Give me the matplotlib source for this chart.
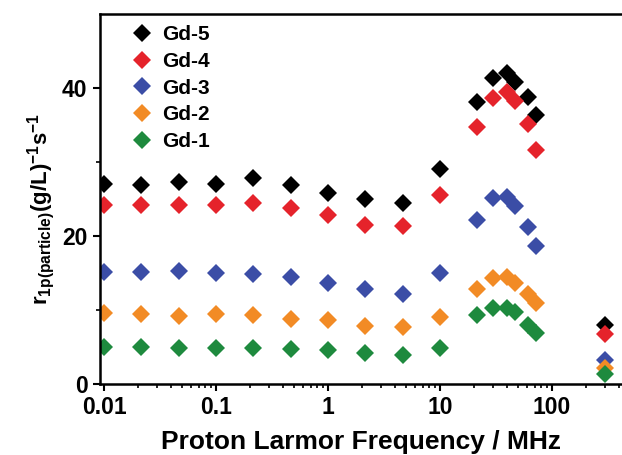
import matplotlib
matplotlib.use("Agg")
import matplotlib.pyplot as plt
from matplotlib.ticker import LogLocator, FixedLocator, NullFormatter

plt.rcParams['font.family'] = ['Liberation Sans', 'DejaVu Sans']
plt.rcParams['font.weight'] = 'bold'
plt.rcParams['mathtext.fontset'] = 'custom'
plt.rcParams['mathtext.rm'] = 'Liberation Sans:bold'
plt.rcParams['mathtext.bf'] = 'Liberation Sans:bold'
plt.rcParams['mathtext.it'] = 'Liberation Sans:bold'

freq = [0.01, 0.0215, 0.0464, 0.1, 0.215, 0.464, 1.0, 2.15, 4.64, 10.0,
        21.5, 30, 40, 47, 61, 72, 300]

gd5 = [27.0, 26.9, 27.3, 27.0, 27.8, 26.9, 25.8, 25.0, 24.4, 29.0,
       38.1, 41.4, 42.0, 40.8, 38.8, 36.3, 8.0]
gd4 = [24.2, 24.2, 24.2, 24.2, 24.4, 23.8, 22.8, 21.5, 21.4, 25.6,
       34.7, 38.6, 39.4, 38.3, 35.2, 31.6, 6.7]
gd3 = [15.1, 15.1, 15.3, 15.0, 14.9, 14.5, 13.6, 12.9, 12.1, 15.0,
       22.2, 25.1, 25.3, 24.0, 21.2, 18.6, 3.2]
gd2 = [9.6, 9.5, 9.2, 9.4, 9.3, 8.8, 8.6, 7.8, 7.7, 9.1,
       12.9, 14.3, 14.4, 13.6, 12.2, 10.9, 2.2]
gd1 = [5.0, 5.0, 4.9, 4.9, 4.9, 4.7, 4.6, 4.2, 3.9, 4.8,
       9.3, 10.3, 10.3, 9.7, 8.0, 6.9, 1.3]

series_names = ['Gd-5', 'Gd-4', 'Gd-3', 'Gd-2', 'Gd-1']
series_vals = [gd5, gd4, gd3, gd2, gd1]
colors = ['#000000', '#e5232b', '#3b4da6', '#f28b25', '#1e8a3e']

x_ticks = [0.01, 0.1, 1, 10, 100]
x_tick_labels = ['0.01', '0.1', '1', '10', '100']
y_ticks = [0, 20, 40]

fig = plt.figure(figsize=(6.22, 4.55), dpi=100)
ax = fig.add_axes([100/622, 1-384/455, 1-100/622, (384-14)/455])

for name, vals, c in zip(series_names, series_vals, colors):
    ax.plot(freq, vals, linestyle='none', marker='D', markersize=9.5,
            color=c, markeredgewidth=0, label=name)

ax.set_xscale('log')
ax.set_xlim(0.0092, 422)
ax.set_ylim(0, 50)

ax.set_xticks(x_ticks)
ax.set_xticklabels(x_tick_labels)
ax.xaxis.set_minor_locator(LogLocator(base=10, subs=range(2, 10), numticks=20))
ax.xaxis.set_minor_formatter(NullFormatter())
ax.set_yticks(y_ticks)
ax.yaxis.set_minor_locator(FixedLocator([10, 30]))

ax.spines['right'].set_visible(False)
for s in ['left', 'bottom', 'top']:
    ax.spines[s].set_linewidth(1.8)

ax.tick_params(axis='both', which='major', direction='out', length=5, width=1.5,
               labelsize=16.5, pad=4)
ax.tick_params(axis='both', which='minor', direction='out', length=3, width=1.2)
ax.tick_params(top=False, right=False, which='both')
for lbl in ax.get_xticklabels() + ax.get_yticklabels():
    lbl.set_fontweight('bold')

ax.set_xlabel('Proton Larmor Frequency / MHz', fontsize=19, fontweight='bold', labelpad=7.2)
ax.set_ylabel(r'$\mathbf{r_{1p(particle)}(g/L)^{-1}s^{-1}}$', fontsize=16)
ax.yaxis.set_label_coords(-0.082, 0.473)

leg = ax.legend(loc='upper left', bbox_to_anchor=(0.0605, 0.970), frameon=False,
                prop={'size': 15, 'weight': 'bold'}, handlelength=1.0,
                handletextpad=0.46, labelspacing=0.37, borderpad=0,
                borderaxespad=0, numpoints=1)

fig.savefig('out.png', dpi=100)
